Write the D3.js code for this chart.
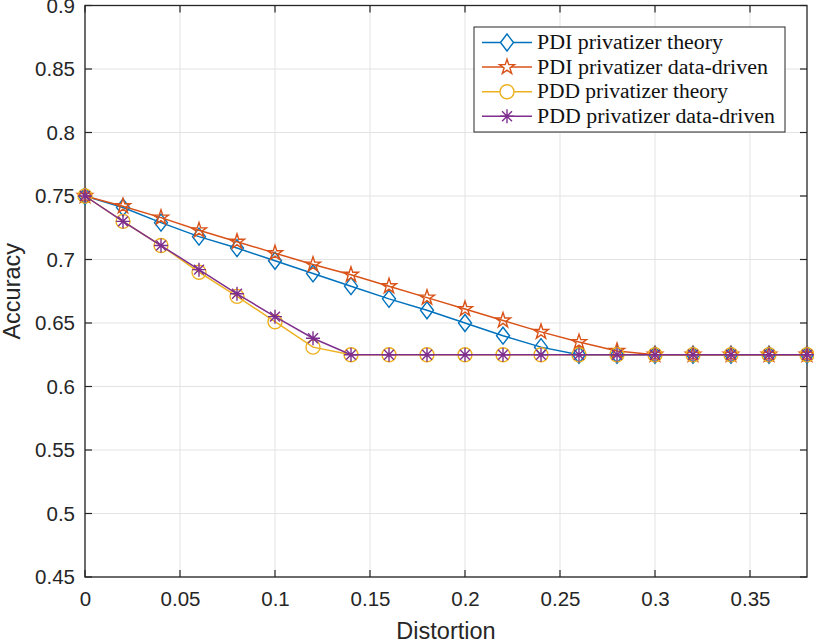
<!DOCTYPE html>
<html>
<head>
<meta charset="utf-8">
<script src="https://cdn.jsdelivr.net/npm/d3@7"></script>
<style>
  body { margin: 0; background: #fff; }
  svg { display: block; }
</style>
</head>
<body>
<div id="chart"></div>
<script>
// values
const distortion = [0, 0.02, 0.04, 0.06, 0.08, 0.10, 0.12, 0.14, 0.16, 0.18,
                    0.20, 0.22, 0.24, 0.26, 0.28, 0.30, 0.32, 0.34, 0.36, 0.38];
const pdiTheory = [0.750, 0.741, 0.729, 0.718, 0.709, 0.699, 0.689, 0.679, 0.669, 0.660,
                   0.650, 0.640, 0.631, 0.625, 0.625, 0.625, 0.625, 0.625, 0.625, 0.625];
const pdiData = [0.750, 0.742, 0.733, 0.723, 0.714, 0.705, 0.696, 0.688, 0.679, 0.670,
                 0.661, 0.652, 0.643, 0.635, 0.628, 0.625, 0.625, 0.625, 0.625, 0.625];
const pddTheory = [0.750, 0.730, 0.711, 0.690, 0.671, 0.651, 0.631, 0.625, 0.625, 0.625,
                   0.625, 0.625, 0.625, 0.625, 0.625, 0.625, 0.625, 0.625, 0.625, 0.625];
const pddData = [0.750, 0.730, 0.711, 0.692, 0.673, 0.655, 0.638, 0.625, 0.625, 0.625,
                 0.625, 0.625, 0.625, 0.625, 0.625, 0.625, 0.625, 0.625, 0.625, 0.625];
const seriesNames = ["PDI privatizer theory", "PDI privatizer data-driven",
                     "PDD privatizer theory", "PDD privatizer data-driven"];
const xTicks = [0, 0.05, 0.1, 0.15, 0.2, 0.25, 0.3, 0.35];
const xTickLabels = ["0", "0.05", "0.1", "0.15", "0.2", "0.25", "0.3", "0.35"];
const yTicks = [0.45, 0.5, 0.55, 0.6, 0.65, 0.7, 0.75, 0.8, 0.85, 0.9];
const yTickLabels = ["0.45", "0.5", "0.55", "0.6", "0.65", "0.7", "0.75", "0.8", "0.85", "0.9"];

const width = 814;
const height = 643;
const margin = {top: 5.5, right: 7, bottom: 66, left: 85};
const axisColor = "#262626";
const colors = ["#0072BD", "#D95319", "#EDB120", "#7E2F8E"];
const markers = ["diamond", "star", "circle", "asterisk"];
const values = [pdiTheory, pdiData, pddTheory, pddData];

const series = seriesNames.map((name, i) => ({
    name: name,
    color: colors[i],
    marker: markers[i],
    points: distortion.map((d, j) => ({x: d, y: values[i][j]}))
}));

const svg = d3.select("#chart")
    .append("svg")
    .attr("width", width)
    .attr("height", height);

const x = d3.scaleLinear()
    .domain([0, 0.38])
    .range([margin.left, width - margin.right]);

const y = d3.scaleLinear()
    .domain([0.45, 0.9])
    .range([height - margin.bottom, margin.top]);

const x0 = x.range()[0], x1 = x.range()[1];
const y0 = y.range()[0], y1 = y.range()[1];

// grid
const grid = svg.append("g").attr("stroke", "#e3e3e3").attr("stroke-width", 1);
grid.selectAll(".gx").data(xTicks).enter().append("line")
    .attr("x1", d => x(d)).attr("x2", d => x(d))
    .attr("y1", y0).attr("y2", y1);
grid.selectAll(".gy").data(yTicks).enter().append("line")
    .attr("x1", x0).attr("x2", x1)
    .attr("y1", d => y(d)).attr("y2", d => y(d));

// axes with inward ticks (box on)
const tickLen = 7;
const xAxis = svg.append("g")
    .attr("transform", `translate(0,${y0})`)
    .call(d3.axisBottom(x).tickValues(xTicks).tickSize(0)
        .tickFormat((d, i) => xTickLabels[i]));
const yAxis = svg.append("g")
    .attr("transform", `translate(${x0},0)`)
    .call(d3.axisLeft(y).tickValues(yTicks).tickSize(0).tickPadding(10)
        .tickFormat((d, i) => yTickLabels[i]));

[xAxis, yAxis].forEach(a => {
    a.select(".domain").remove();
    a.selectAll("text")
        .attr("fill", axisColor)
        .style("font-family", "'Liberation Sans', Arial, sans-serif")
        .style("font-size", "20.5px");
});
xAxis.selectAll("text").attr("dy", "0.71em").attr("y", 14);

const ticks = svg.append("g").attr("stroke", axisColor).attr("stroke-width", 1.2);
ticks.selectAll(".tb").data(xTicks).enter().append("line")
    .attr("x1", d => x(d)).attr("x2", d => x(d))
    .attr("y1", y0).attr("y2", y0 - tickLen);
ticks.selectAll(".tt").data(xTicks).enter().append("line")
    .attr("x1", d => x(d)).attr("x2", d => x(d))
    .attr("y1", y1).attr("y2", y1 + tickLen);
ticks.selectAll(".tl").data(yTicks).enter().append("line")
    .attr("x1", x0).attr("x2", x0 + tickLen)
    .attr("y1", d => y(d)).attr("y2", d => y(d));
ticks.selectAll(".tr").data(yTicks).enter().append("line")
    .attr("x1", x1).attr("x2", x1 - tickLen)
    .attr("y1", d => y(d)).attr("y2", d => y(d));

svg.append("rect")
    .attr("x", x0).attr("y", y1)
    .attr("width", x1 - x0).attr("height", y0 - y1)
    .attr("fill", "none")
    .attr("stroke", axisColor)
    .attr("stroke-width", 1.3);

// axis titles
svg.append("text")
    .attr("x", (x0 + x1) / 2)
    .attr("y", 639)
    .attr("text-anchor", "middle")
    .attr("fill", axisColor)
    .style("font-family", "'Liberation Sans', Arial, sans-serif")
    .style("font-size", "23.5px")
    .text("Distortion");

svg.append("text")
    .attr("transform", `translate(20,${(y0 + y1) / 2}) rotate(-90)`)
    .attr("text-anchor", "middle")
    .attr("fill", axisColor)
    .style("font-family", "'Liberation Sans', Arial, sans-serif")
    .style("font-size", "23.5px")
    .text("Accuracy");

// marker shapes
function markerPath(type) {
    if (type === "diamond") return "M0,-8.5L6.5,0L0,8.5L-6.5,0Z";
    if (type === "star") return d3.symbol().type(d3.symbolStar).size(70)();
    if (type === "asterisk") {
        const r = 7, s = r * Math.SQRT1_2;
        return `M${-r},0L${r},0M0,${-r}L0,${r}M${-s},${-s}L${s},${s}M${-s},${s}L${s},${-s}`;
    }
    return d3.symbol().type(d3.symbolCircle).size(Math.PI * 49)();
}

const line = d3.line().x(d => x(d.x)).y(d => y(d.y));

const plot = svg.append("g");
series.forEach(s => {
    const g = plot.append("g");
    g.append("path")
        .datum(s.points)
        .attr("d", line)
        .attr("fill", "none")
        .attr("stroke", s.color)
        .attr("stroke-width", 1.5);
    g.selectAll("path.m")
        .data(s.points)
        .enter().append("path")
        .attr("class", "m")
        .attr("transform", d => `translate(${x(d.x)},${y(d.y)})`)
        .attr("d", markerPath(s.marker))
        .attr("fill", "none")
        .attr("stroke", s.color)
        .attr("stroke-width", 1.4);
});

// legend
const legend = svg.append("g");
legend.append("rect")
    .attr("x", 474).attr("y", 27)
    .attr("width", 311).attr("height", 105)
    .attr("fill", "#fff")
    .attr("stroke", axisColor)
    .attr("stroke-width", 1);

const textWidths = [186, 231, 191, 238];
const rows = legend.selectAll(".row")
    .data(series)
    .enter().append("g")
    .attr("transform", (d, i) => `translate(0,${42.5 + i * 24.6})`);
rows.append("line")
    .attr("x1", 482).attr("x2", 532)
    .attr("stroke", d => d.color)
    .attr("stroke-width", 1.5);
rows.append("path")
    .attr("transform", "translate(507,0)")
    .attr("d", d => markerPath(d.marker))
    .attr("fill", "#fff")
    .attr("stroke", d => d.color)
    .attr("stroke-width", 1.4);
rows.append("text")
    .attr("x", 537)
    .attr("y", 6.5)
    .attr("fill", "#111")
    .attr("textLength", (d, i) => textWidths[i])
    .attr("lengthAdjust", "spacingAndGlyphs")
    .style("font-family", "'Liberation Serif', 'Times New Roman', serif")
    .style("font-size", "20px")
    .text(d => d.name);
</script>
</body>
</html>
